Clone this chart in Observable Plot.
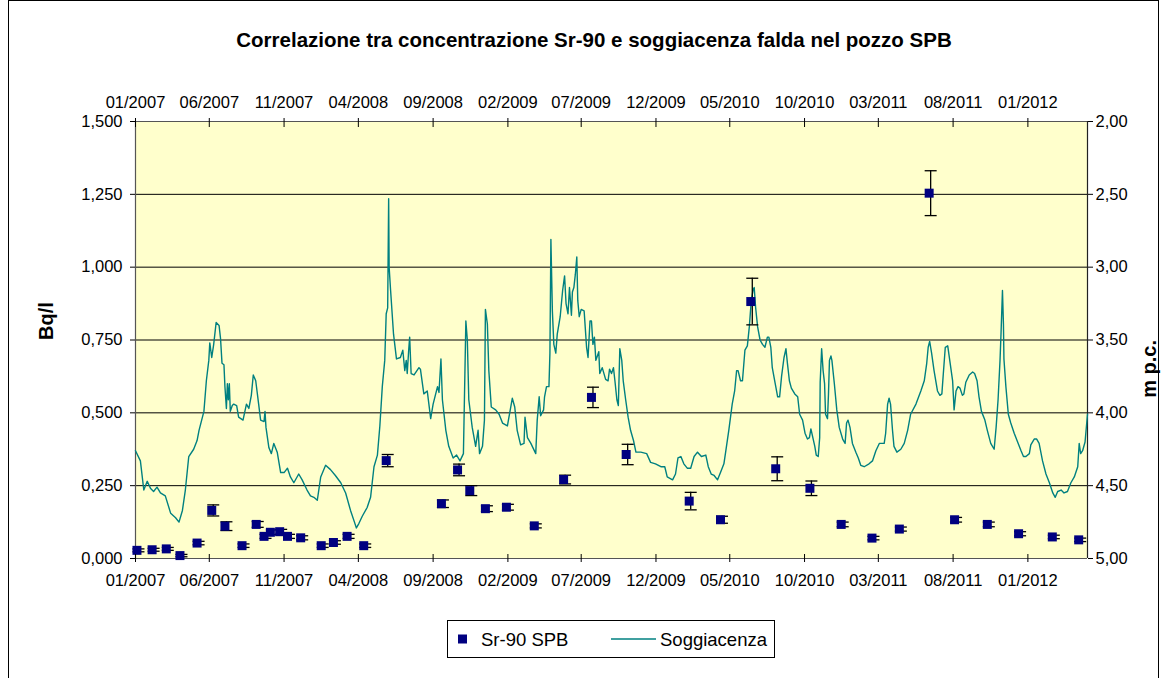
<!DOCTYPE html>
<html>
<head>
<meta charset="utf-8">
<script src="https://cdn.jsdelivr.net/npm/d3@7"></script>
<script src="https://cdn.jsdelivr.net/npm/@observablehq/plot@0.6"></script>
<style>
  body { margin: 0; background: #fff; font-family: "Liberation Sans", Arial, sans-serif; }
  #wrap { position: relative; width: 1165px; height: 678px; overflow: hidden; background: #fff; }
  #border { position: absolute; left: 8px; top: 0px; width: 1151px; height: 700px; border: 1px solid #000; box-sizing: border-box; }
  #chart { position: absolute; left: 0; top: 0; }
  #title { position: absolute; left: 0; top: 28px; width: 1188px; text-align: center; font-weight: bold; font-size: 20.5px; color: #000; }
  #legend { position: absolute; left: 447px; top: 620px; width: 326px; height: 36px; border: 1px solid #000; background: #fff; }
</style>
</head>
<body>
<div id="wrap">
  <div id="border"></div>
  <div id="chart"></div>
  <div id="title">Correlazione tra concentrazione Sr-90 e soggiacenza falda nel pozzo SPB</div>
  <div id="legend"></div>
</div>
<script>
// ---- DATA ----
// days counted from 01/01/2007
const startDate = "2007-01-01";
const endDate = "2012-05-02";

// Sr-90 SPB (Bq/l) with measurement uncertainty
const srDays   = [3, 34, 63, 91, 126, 156, 183, 218, 247, 263, 276, 295, 311, 338, 380, 405, 433, 467, 513,
                  626, 659, 684, 716, 759, 816, 876, 933, 1004, 1133, 1197, 1259, 1310, 1380, 1444, 1507, 1563,
                  1624, 1676, 1743, 1807, 1876, 1930];
const srValues = [0.028, 0.030, 0.033, 0.010, 0.053, 0.165, 0.111, 0.044, 0.117, 0.076, 0.090, 0.092, 0.076, 0.071, 0.044, 0.055, 0.076, 0.044, 0.336,
                  0.188, 0.304, 0.233, 0.171, 0.176, 0.112, 0.271, 0.553, 0.357, 0.197, 0.133, 0.882, 0.308, 0.241, 0.117, 0.070, 0.101,
                  1.254, 0.133, 0.117, 0.085, 0.074, 0.064];
const srErrors = [0.005, 0.005, 0.005, 0.004, 0.006, 0.019, 0.015, 0.006, 0.010, 0.007, 0.008, 0.008, 0.007, 0.007, 0.006, 0.006, 0.007, 0.006, 0.021,
                  0.013, 0.020, 0.017, 0.010, 0.010, 0.007, 0.015, 0.035, 0.035, 0.030, 0.012, 0.080, 0.041, 0.025, 0.008, 0.006, 0.007,
                  0.077, 0.008, 0.008, 0.007, 0.006, 0.006];

// Soggiacenza (m p.c.)
const soggDays = [0,10,17,24,31,37,44,51,61,72,82,89,96,102,109,119,126,130,140,145,150,152,156,160,165,171,174,177,181,183,
  186,188,190,192,194,198,201,207,211,220,227,232,237,241,246,252,256,263,265,267,273,278,283,290,297,304,311,317,324,334,
  341,351,358,365,372,379,389,399,409,420,430,440,447,452,457,464,474,481,488,495,500,505,510,513,516,518,519,522,528,534,
  542,547,551,554,556,559,561,564,570,580,583,590,597,604,609,618,621,625,628,635,641,650,657,664,671,676,679,682,689,696,
  701,704,710,714,716,720,723,728,737,744,751,761,771,776,781,788,795,797,802,809,819,822,826,829,835,837,841,846,848,850,
  853,856,860,863,869,874,878,881,885,888,892,894,897,900,903,905,908,912,918,923,926,930,933,936,939,942,948,950,955,962,
  967,970,974,978,981,985,988,991,995,998,1003,1008,1013,1019,1024,1034,1046,1054,1064,1075,1083,1088,1099,1105,1110,1116,1122,1129,1136,1143,
  1150,1158,1167,1172,1178,1184,1191,1197,1204,1208,1214,1221,1226,1230,1233,1238,1242,1247,1252,1256,1260,1264,1266,1269,1273,1278,1283,1288,1293,1296,
  1300,1303,1309,1314,1318,1322,1327,1331,1334,1338,1342,1349,1355,1359,1365,1370,1375,1379,1382,1386,1390,1393,1397,1400,1401,1404,1407,1410,1412,1416,
  1418,1420,1423,1425,1430,1435,1440,1447,1452,1455,1458,1462,1467,1474,1479,1484,1491,1501,1508,1515,1522,1532,1535,1539,1542,1545,1549,1552,1558,1566,
  1573,1580,1586,1597,1607,1614,1619,1622,1625,1629,1634,1641,1646,1650,1653,1657,1662,1667,1672,1675,1679,1683,1687,1692,1695,1699,1706,1713,1717,1722,
  1726,1731,1738,1743,1750,1757,1761,1765,1769,1771,1774,1776,1777,1781,1786,1791,1798,1805,1812,1817,1822,1829,1832,1839,1844,1849,1856,1863,1870,1877,
  1882,1887,1894,1900,1907,1914,1921,1928,1931,1934,1938,1943,1948];
const soggDepth = [4.26,4.33,4.53,4.47,4.52,4.54,4.51,4.55,4.57,4.69,4.72,4.75,4.67,4.53,4.30,4.25,4.19,4.12,3.99,3.78,3.64,3.52,3.62,3.53,3.38,3.40,3.49,3.66,3.67,3.82,
  3.97,3.80,3.91,3.80,3.99,3.95,3.94,3.95,4.03,4.05,3.94,3.97,3.88,3.74,3.78,3.94,4.05,4.06,3.99,4.10,4.24,4.28,4.21,4.27,4.41,4.41,4.38,4.44,4.48,4.42,
  4.46,4.53,4.57,4.58,4.60,4.44,4.36,4.39,4.43,4.48,4.55,4.67,4.74,4.79,4.76,4.71,4.65,4.58,4.37,4.29,4.09,3.82,3.64,3.32,3.28,2.53,3.00,3.16,3.46,3.63,
  3.62,3.57,3.71,3.64,3.73,3.57,3.48,3.73,3.74,3.69,3.70,3.87,3.85,4.04,3.94,3.82,3.86,3.63,3.91,4.12,4.23,4.31,4.29,4.33,4.28,3.37,3.50,3.91,4.10,4.23,
  4.12,4.28,4.23,4.05,3.29,3.39,3.71,3.96,3.98,4.01,4.07,4.09,3.90,3.96,4.12,4.22,4.21,4.03,4.17,4.21,4.28,4.05,3.89,4.02,3.98,3.89,3.82,3.82,3.59,2.81,
  3.30,3.53,3.59,3.46,3.34,3.16,3.06,3.25,3.32,3.14,3.33,3.17,3.14,3.05,2.93,3.23,3.34,3.29,3.30,3.55,3.62,3.37,3.37,3.53,3.48,3.64,3.58,3.73,3.69,3.77,
  3.78,3.70,3.73,3.69,3.78,3.91,3.95,3.56,3.64,3.78,3.91,4.03,4.12,4.19,4.27,4.27,4.28,4.34,4.35,4.37,4.37,4.44,4.46,4.42,4.31,4.30,4.35,4.38,4.38,4.30,
  4.27,4.30,4.29,4.37,4.42,4.43,4.46,4.41,4.35,4.26,4.12,3.94,3.85,3.71,3.71,3.78,3.78,3.57,3.54,3.41,3.23,3.15,3.14,3.28,3.41,3.50,3.53,3.55,3.48,3.48,
  3.55,3.69,3.80,3.89,3.89,3.75,3.62,3.56,3.66,3.78,3.83,3.87,3.89,4.01,4.05,4.14,4.18,4.17,4.11,4.17,4.23,4.29,4.30,4.17,3.79,3.56,3.71,3.80,4.01,4.04,
  3.87,3.64,3.61,3.64,3.80,3.98,4.10,4.18,4.21,4.07,4.05,4.10,4.21,4.27,4.31,4.36,4.37,4.35,4.33,4.26,4.21,4.21,4.14,3.94,3.90,3.94,4.12,4.23,4.27,4.25,
  4.21,4.12,4.01,3.94,3.85,3.78,3.66,3.55,3.51,3.59,3.71,3.85,3.88,3.87,3.73,3.55,3.54,3.66,3.78,3.98,3.85,3.82,3.83,3.88,3.87,3.79,3.74,3.72,3.73,3.78,
  3.89,3.99,4.05,4.12,4.21,4.25,4.10,3.91,3.64,3.46,3.16,3.39,3.63,3.82,4.01,4.07,4.14,4.20,4.26,4.30,4.30,4.28,4.22,4.18,4.18,4.21,4.33,4.42,4.48,4.55,
  4.58,4.54,4.53,4.55,4.54,4.48,4.44,4.37,4.21,4.28,4.26,4.20,4.01];

const xTickLabels = ["01/2007","06/2007","11/2007","04/2008","09/2008","02/2009","07/2009","12/2009","05/2010","10/2010","03/2011","08/2011","01/2012"];
const leftTicks = [0, 0.25, 0.5, 0.75, 1.0, 1.25, 1.5];
const rightTicks = [2.0, 2.5, 3.0, 3.5, 4.0, 4.5, 5.0];
const gridValues = [0.25, 0.5, 0.75, 1.0, 1.25];

// ---- BUILD ----
const t0 = d3.utcParse("%Y-%m-%d")(startDate);
const t1 = d3.utcParse("%Y-%m-%d")(endDate);
const toDate = n => d3.utcDay.offset(t0, n);
const sr = srDays.map((d, i) => ({date: toDate(d), v: srValues[i], e: srErrors[i]}));
const sogg = soggDays.map((d, i) => ({date: toDate(d), m: soggDepth[i]}));
const xTicks = xTickLabels.map(s => d3.utcParse("%m/%Y")(s));

// secondary axis (m p.c., inverted 2..5) mapped onto primary (Bq/l 0..1.5)
const depthToBq = m => (5 - m) / 3 * 1.5;
const bqToDepth = b => 5 - b / 1.5 * 3;
const commaFmt = (k) => (v) => v.toFixed(k).replace(".", ",");

const capSymbol = {draw(ctx) { ctx.moveTo(-6, 0); ctx.lineTo(6, 0); }};
const sqSymbol = {draw(ctx) { ctx.rect(-4.5, -4.5, 9, 9); }};

const fs = 16.5;
const font = "'Liberation Sans', Arial, sans-serif";
const plot = Plot.plot({
  width: 1165,
  height: 678,
  marginLeft: 135,
  marginRight: 78,
  marginTop: 121,
  marginBottom: 120,
  style: {fontFamily: font, fontSize: fs + "px", color: "#000", background: "transparent"},
  x: {type: "utc", domain: [t0, t1]},
  y: {domain: [0, 1.5]},
  marks: [
    Plot.frame({fill: "#FFFFCC", stroke: null}),
    Plot.ruleY(gridValues, {stroke: "#000", strokeWidth: 1}),
    Plot.ruleY([1.5], {stroke: "#555", strokeWidth: 1.2}),
    Plot.ruleY([0], {stroke: "#555", strokeWidth: 1.2}),
    Plot.ruleX([t0], {stroke: "#555", strokeWidth: 1.2}),
    Plot.ruleX([t1], {stroke: "#222", strokeWidth: 1.2}),
    Plot.line(sogg, {x: "date", y: d => depthToBq(d.m), stroke: "#008080", strokeWidth: 1.4}),
    Plot.ruleX(sr, {x: "date", y1: d => d.v - d.e, y2: d => d.v + d.e, dx: 1.5, stroke: "#000", strokeWidth: 1.3}),
    Plot.dot(sr, {x: "date", y: d => d.v + d.e, symbol: capSymbol, stroke: "#000", fill: "none", strokeWidth: 1.3, dx: 1.5, r: 3}),
    Plot.dot(sr, {x: "date", y: d => d.v - d.e, symbol: capSymbol, stroke: "#000", fill: "none", strokeWidth: 1.3, dx: 1.5, r: 3}),
    Plot.dot(sr, {x: "date", y: "v", symbol: sqSymbol, fill: "#000080", stroke: null, r: 3}),
    // axes
    Plot.axisY(leftTicks, {anchor: "left", tickSize: 5, tickPadding: 8, tickFormat: commaFmt(3), fontSize: fs, label: null}),
    Plot.axisY(rightTicks.map(depthToBq), {anchor: "right", tickSize: 5, tickPadding: 3, tickFormat: b => commaFmt(2)(bqToDepth(b)), fontSize: fs, label: null}),
    Plot.axisX(xTicks, {anchor: "bottom", tickSize: 8, dy: -4, tickFormat: () => "", label: null}),
    Plot.axisX(xTicks, {anchor: "bottom", tickSize: 0, tickPadding: 16, tickFormat: d3.utcFormat("%m/%Y"), fontSize: fs, label: null}),
    Plot.axisX(xTicks, {anchor: "top", tickSize: 9, dy: 5, tickFormat: () => "", label: null}),
    Plot.axisX(xTicks, {anchor: "top", tickSize: 0, tickPadding: 14, tickFormat: d3.utcFormat("%m/%Y"), fontSize: fs, label: null}),
    Plot.text(["Bq/l"], {frameAnchor: "left", dx: -89, rotate: -90, fontWeight: "bold", fontSize: 20}),
    Plot.text(["m p.c."], {frameAnchor: "right", dx: 62, rotate: -90, fontWeight: "bold", fontSize: 20})
  ]
});
document.getElementById("chart").appendChild(plot);

// legend
const lg = d3.select("#legend");
const ls = lg.append("svg").attr("width", 326).attr("height", 36);
ls.append("rect").attr("x", 10).attr("y", 13.5).attr("width", 9).attr("height", 9).attr("fill", "#000080");
ls.append("text").attr("x", 33).attr("y", 24.5).attr("font-size", 18.5).attr("font-family", font).text("Sr-90 SPB");
ls.append("line").attr("x1", 163).attr("x2", 208).attr("y1", 18).attr("y2", 18).attr("stroke", "#008080").attr("stroke-width", 1.4);
ls.append("text").attr("x", 212).attr("y", 24.5).attr("font-size", 18.5).attr("font-family", font).text("Soggiacenza");
</script>
</body>
</html>
